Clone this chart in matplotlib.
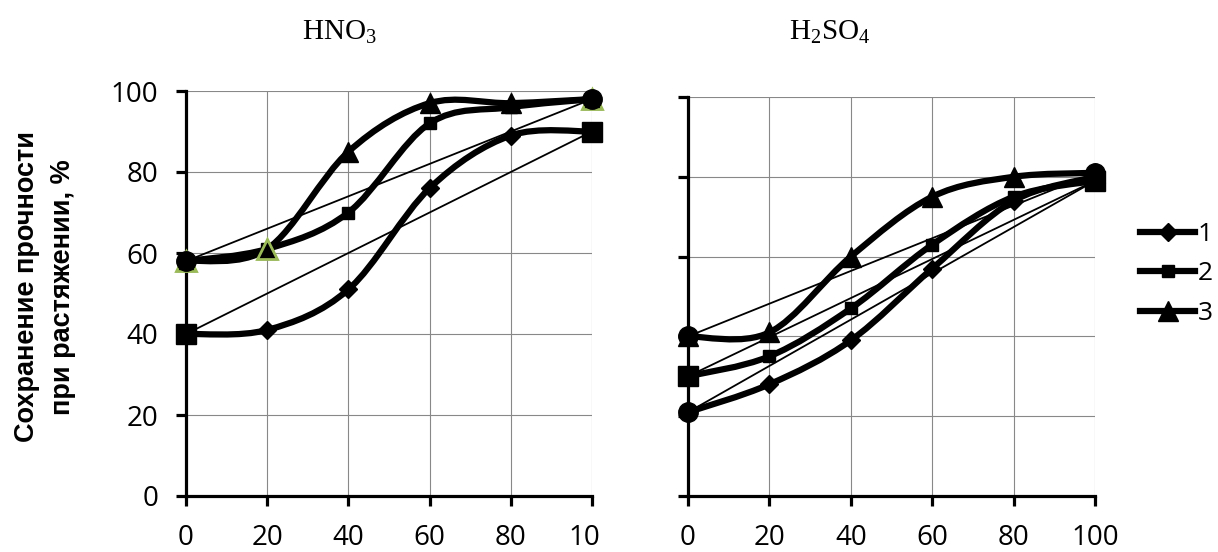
import matplotlib
matplotlib.use('Agg')
import matplotlib.pyplot as plt
from matplotlib.path import Path
from matplotlib.patches import PathPatch
from matplotlib.lines import Line2D
from matplotlib.transforms import Bbox

plt.rcParams['mathtext.fontset'] = 'custom'
plt.rcParams['mathtext.rm'] = 'Liberation Serif'
plt.rcParams['mathtext.default'] = 'rm'

# concentration, %
conc = [0, 20, 40, 60, 80, 100]
tick_vals = [0, 20, 40, 60, 80, 100]
left_xlabels = ['0', '20', '40', '60', '80', '100']

hno3_1 = [40, 41, 51, 76, 89, 90]
hno3_2 = [58, 61, 70, 92, 96, 98]
hno3_3 = [58, 61, 85, 97, 97, 98]

h2so4_1 = [21, 28, 39, 57, 74, 80]
h2so4_2 = [30, 35, 47, 63, 75, 79]
h2so4_3 = [40, 41, 60, 75, 80, 81]

# straight linear lines (end points)
ends_x = [0, 100]
hno3_lin_a = [58, 98]
hno3_lin_b = [40, 90]
h2so4_lin_a = [40, 81]
h2so4_lin_b = [30, 79]
h2so4_lin_c = [21, 79]

# green outlined triangles (extra series)
green_x = [0, 20, 100]
green_y = [58, 61, 98]

series_labels = ['1', '2', '3']
markers = ['D', 's', '^']
msizes = [9, 9, 14]

tick_font = 'Open Sans'
GREEN = '#9BBB59'


def smooth_path(x, y):
    # cubic bezier through the points, like a spreadsheet "smoothed line"
    verts = [(x[0], y[0])]
    codes = [Path.MOVETO]
    n = len(x)
    for i in range(n - 1):
        xp, yp = (x[i - 1], y[i - 1]) if i > 0 else (x[i], y[i])
        xn, yn = (x[i + 2], y[i + 2]) if i + 2 < n else (x[i + 1], y[i + 1])
        c1 = (x[i] + (x[i + 1] - xp) / 6, y[i] + (y[i + 1] - yp) / 6)
        c2 = (x[i + 1] - (xn - x[i]) / 6, y[i + 1] - (yn - y[i]) / 6)
        verts += [c1, c2, (x[i + 1], y[i + 1])]
        codes += [Path.CURVE4] * 3
    return Path(verts, codes)


def style_axes(ax, labels):
    ax.set_xlim(0, 100)
    ax.set_ylim(0, 100)
    ax.set_xticks(tick_vals)
    ax.set_yticks(tick_vals)
    ax.set_xticklabels(labels, fontsize=20, family=tick_font)
    ax.grid(True, color='#888888', lw=0.8, zorder=0)
    ax.set_axisbelow(True)
    for s in ['top', 'right']:
        ax.spines[s].set_visible(False)
    for s in ['left', 'bottom']:
        ax.spines[s].set_linewidth(2.3)
        ax.spines[s].set_color('black')
        ax.spines[s].set_zorder(2)
    ax.tick_params(direction='out', length=7, width=2.3, color='black')
    ax.tick_params(axis='x', pad=13)
    ax.tick_params(axis='y', pad=13)


def draw_smooth(ax, y, marker, ms):
    ax.add_patch(PathPatch(smooth_path(conc, y), fill=False, lw=4.5, ec='black',
                           capstyle='round', joinstyle='round', zorder=4, clip_on=False))
    ax.plot(conc, y, ls='none', marker=marker, ms=ms, color='black', zorder=5, clip_on=False)


def draw_line(ax, y, marker):
    ax.plot(ends_x, y, color='black', lw=1.3, marker=marker, ms=14, zorder=6, clip_on=False)


fig = plt.figure(figsize=(12.18, 5.52), dpi=100)
ax1 = fig.add_axes([186 / 1218, 56 / 552, 406 / 1218, 405 / 552])
ax2 = fig.add_axes([688 / 1218, 56 / 552, 407 / 1218, 399 / 552])

# HNO3
style_axes(ax1, left_xlabels)
ax1.set_yticklabels([str(v) for v in tick_vals], fontsize=20, family=tick_font)
ax1.plot(green_x, green_y, ls='none', marker='^', ms=15, mfc='black', mec=GREEN,
         mew=2, zorder=5.5, clip_on=False)
draw_line(ax1, hno3_lin_a, 'o')
draw_line(ax1, hno3_lin_b, 's')
for y, m, ms in zip([hno3_1, hno3_2, hno3_3], markers, msizes):
    draw_smooth(ax1, y, m, ms)

# H2SO4
style_axes(ax2, [str(v) for v in tick_vals])
ax2.set_yticklabels([])
draw_line(ax2, h2so4_lin_a, 'o')
draw_line(ax2, h2so4_lin_b, 's')
draw_line(ax2, h2so4_lin_c, 'o')
for y, m, ms in zip([h2so4_1, h2so4_2, h2so4_3], markers, msizes):
    draw_smooth(ax2, y, m, ms)

# the last label on the left chart is cut off in the original
lab = ax1.get_xticklabels()[-1]
lab.set_clip_on(True)
lab.set_clip_box(Bbox.from_extents(0, 0, 601, 552))

fig.text(339 / 1218, 1 - 40 / 552, r'HNO$_{3}$', ha='center', va='baseline',
         fontsize=21, family='Liberation Serif')
fig.text(830 / 1218, 1 - 40 / 552, r'H$_{2}$SO$_{4}$', ha='center', va='baseline',
         fontsize=21, family='Liberation Serif')

fig.text(45 / 1218, 1 - 287 / 552, 'Сохранение прочности\nпри растяжении, %',
         rotation=90, ha='center', va='center', multialignment='center',
         fontsize=19.5, fontweight='bold', family='Liberation Sans', linespacing=1.5)

handles = [Line2D([], [], color='black', lw=4.5, marker=m, ms=ms) for m, ms in zip(markers, msizes)]
fig.legend(handles, series_labels, loc='center left', bbox_to_anchor=(1140 / 1218, 1 - 274 / 552),
           frameon=False, handlelength=2.1, handletextpad=0.1, labelspacing=0.55,
           borderpad=0, borderaxespad=0, prop={'family': tick_font, 'size': 19})

fig.savefig('out.png', dpi=100)
